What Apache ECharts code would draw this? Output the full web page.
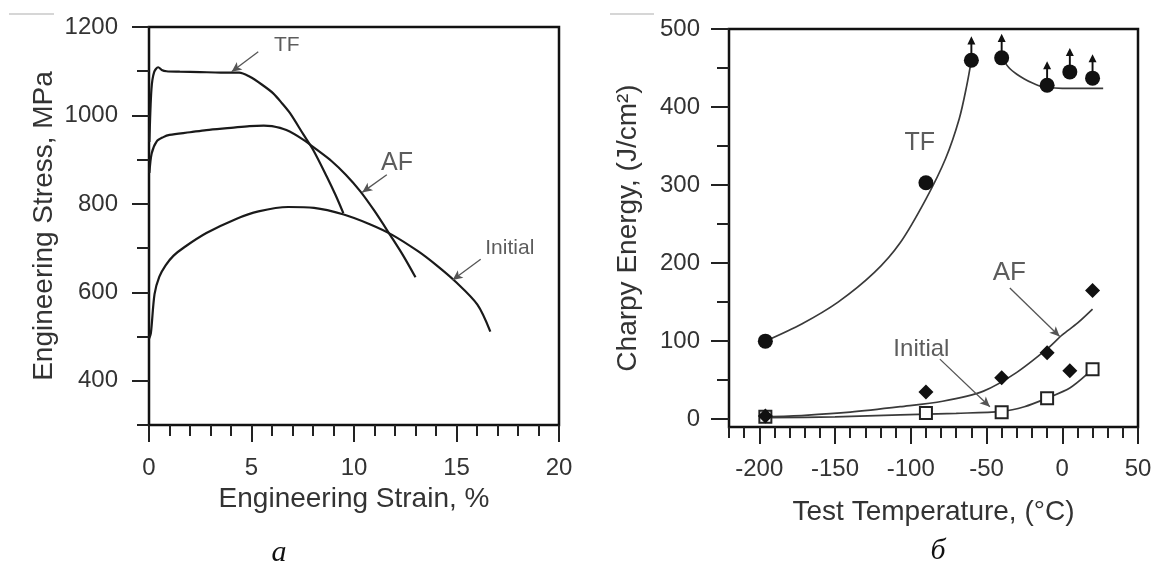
<!DOCTYPE html>
<html><head><meta charset="utf-8">
<script src="https://cdn.jsdelivr.net/npm/echarts@6/dist/echarts.min.js"></script>
<style>html,body{margin:0;padding:0;background:#fff}#c{width:1157px;height:562px}</style>
</head><body><div id="c"></div>
<script>
// ---------- Panel a: engineering stress-strain ----------
const tfStrain = [0.02, 0.12, 0.25, 0.45, 0.62, 0.85, 1.5, 2.5, 3.5, 4.4, 4.9, 5.5, 6.06, 6.5, 6.88, 7.53, 8.01, 8.67, 9.1, 9.48];
const tfStress = [940, 1060, 1098, 1109, 1103, 1100, 1099, 1098, 1097, 1097, 1088, 1070, 1050, 1027, 1005, 957, 922, 862, 820, 779];
const afStrain = [0.02, 0.13, 0.37, 0.7, 1.0, 2.0, 2.8, 4.0, 4.9, 5.6, 6.0, 6.7, 7.5, 8.2, 8.9, 9.6, 10.3, 11.0, 11.8, 12.4, 13.0];
const afStress = [870, 914, 941, 951, 956, 962, 967, 972, 976, 977, 976, 967, 946, 922, 897, 866, 829, 784, 727, 683, 634];
const initStrain = [0.0, 0.09, 0.27, 0.5, 0.81, 1.2, 1.72, 2.8, 4.25, 5.34, 6.79, 8.05, 9.5, 10.77, 11.86, 13.12, 14.0, 14.93, 16.02, 16.65];
const initStress = [495, 507, 596, 635, 661, 683, 702, 734, 766, 783, 793, 791, 776, 754, 730, 693, 662, 625, 572, 511];
const xTicksA = [0, 5, 10, 15, 20];
const yTicksA = [400, 600, 800, 1000, 1200];
// annotation labels (text, x, y, font size) and arrows (tail -> tip)
const labelsA = [['TF', 6.72, 1159, 21], ['AF', 12.1, 893, 25], ['Initial', 17.6, 700, 21]];
const arrowsA = [[5.33, 1144, 4.03, 1099], [11.6, 866, 10.4, 826], [16.18, 675, 14.81, 628]];

// ---------- Panel б: Charpy energy vs temperature ----------
const tempTF = [-196, -90, -60, -40, -10, 5, 20];
const energyTF = [100, 303, 460, 463, 428, 445, 437];
const lowerBoundFrom = -60; // points at or above this temperature are lower bounds (arrows)
const tempAF = [-196, -90, -40, -10, 5, 20];
const energyAF = [4, 35, 53, 85, 62, 165];
const tempInit = [-196, -90, -40, -10, 20];
const energyInit = [3, 8, 9, 27, 64];
const tfFitLowT = [-196, -172, -148, -124, -107, -90, -77, -68, -63, -60];
const tfFitLowE = [100, 122, 150, 188, 226, 282, 334, 385, 428, 460];
const tfFitHighT = [-40, -35, -30, -25, -20, -15, -10, 0, 10, 20, 27];
const tfFitHighE = [463, 450, 442, 436, 431, 427, 425, 424, 424, 424, 424];
const afFitT = [-196, -170, -140, -107, -79, -52, -30, -10, 0, 10, 20];
const afFitE = [3, 5, 9, 16, 23, 36, 60, 90, 108, 123, 141];
const initFitT = [-196, -150, -107, -70, -40, -25, -10, 5, 16];
const initFitE = [2, 3, 5.5, 7.5, 10, 16, 27, 40, 57];
const xTicksB = [-200, -150, -100, -50, 0, 50];
const yTicksB = [0, 100, 200, 300, 400, 500];
const yMinorB = [0, 50, 100, 150, 200, 250, 300, 350, 400, 450, 500];
const labelsB = [['TF', -94, 354, 25], ['AF', -35, 187, 26], ['Initial', -93, 89, 24]];
const arrowsB = [[-34.6, 168, -1.7, 106], [-80.8, 77, -47.8, 16]];

const FONT = '"Liberation Sans", Arial, Helvetica, sans-serif';
const TXT = '#333';
const zip = (a, b) => a.map((v, i) => [v, b[i]]);
const tickStyle = {color: '#222', width: 2};
const lblStyle = {fontSize: 24, color: TXT, fontFamily: FONT, formatter: v => String(v)};
const nameStyle = {fontSize: 28, color: TXT, fontFamily: FONT};

function annot(labels, arrows, xi, yi) {
  return {
    type: 'scatter', xAxisIndex: xi, yAxisIndex: yi, symbolSize: 1, z: 5,
    itemStyle: {color: 'rgba(0,0,0,0)'}, silent: true,
    data: labels.map(l => ({value: [l[1], l[2]], name: l[0],
      label: {show: true, position: 'inside', formatter: '{b}', fontSize: l[3], color: TXT, fontFamily: FONT}})),
    markLine: {silent: true, animation: false, symbol: ['none', 'arrow'], symbolSize: [7, 10],
      label: {show: false}, lineStyle: {color: '#555', width: 1.3, type: 'solid'},
      data: arrows.map(a => [{coord: [a[0], a[1]]}, {coord: [a[2], a[3]]}])}
  };
}

const lineA = (xs, ys) => ({type: 'line', xAxisIndex: 0, yAxisIndex: 0, data: zip(xs, ys), showSymbol: false,
  smooth: 0.3, lineStyle: {color: '#1a1a1a', width: 2.2}, silent: true});
const lineB = (xs, ys) => ({type: 'line', xAxisIndex: 2, yAxisIndex: 2, data: zip(xs, ys), showSymbol: false,
  smooth: 0.3, lineStyle: {color: '#3a3a3a', width: 1.7}, silent: true});

const tfBound = zip(tempTF, energyTF).filter(p => p[0] >= lowerBoundFrom);

const noLine = {show: false, onZero: false};
const option = {
  animation: false,
  backgroundColor: '#fff',
  grid: [
    {left: 149, top: 27, width: 410, height: 398, show: true, borderColor: '#111', borderWidth: 2.5, containLabel: false, outerBoundsMode: 'none'},
    {left: 729, top: 29, width: 409, height: 398, show: true, borderColor: '#111', borderWidth: 2.5, containLabel: false, outerBoundsMode: 'none'}
  ],
  xAxis: [
    {gridIndex: 0, type: 'value', position: 'bottom', min: 0, max: 20, interval: 1, axisLine: noLine,
      axisTick: {length: 11, lineStyle: tickStyle}, axisLabel: {show: false}, splitLine: {show: false}},
    {gridIndex: 0, type: 'value', position: 'bottom', min: 0, max: 20, axisLine: noLine,
      axisTick: {length: 17, lineStyle: tickStyle, customValues: xTicksA},
      axisLabel: Object.assign({margin: 31, customValues: xTicksA}, lblStyle), splitLine: {show: false},
      name: 'Engineering Strain, %', nameLocation: 'middle', nameGap: 59, nameTextStyle: nameStyle},
    {gridIndex: 1, type: 'value', position: 'bottom', min: -220, max: 50, interval: 10, axisLine: noLine,
      axisTick: {length: 11, lineStyle: tickStyle}, axisLabel: {show: false}, splitLine: {show: false}},
    {gridIndex: 1, type: 'value', position: 'bottom', min: -220, max: 50, axisLine: noLine,
      axisTick: {length: 17, lineStyle: tickStyle, customValues: xTicksB},
      axisLabel: Object.assign({margin: 30, customValues: xTicksB}, lblStyle), splitLine: {show: false},
      name: 'Test Temperature, (°C)', nameLocation: 'middle', nameGap: 71, nameTextStyle: nameStyle}
  ],
  yAxis: [
    {gridIndex: 0, type: 'value', position: 'left', min: 300, max: 1200, interval: 100, axisLine: noLine,
      axisTick: {length: 12, lineStyle: tickStyle}, axisLabel: {show: false}, splitLine: {show: false}},
    {gridIndex: 0, type: 'value', position: 'left', min: 300, max: 1200, axisLine: noLine,
      axisTick: {length: 17, lineStyle: tickStyle, customValues: yTicksA},
      axisLabel: Object.assign({margin: 31, customValues: yTicksA}, lblStyle), splitLine: {show: false},
      name: 'Engineering Stress, MPa', nameLocation: 'middle', nameGap: 91, nameTextStyle: nameStyle},
    {gridIndex: 1, type: 'value', position: 'left', min: -10, max: 500, axisLine: noLine,
      axisTick: {length: 12, lineStyle: tickStyle, customValues: yMinorB}, axisLabel: {show: false}, splitLine: {show: false}},
    {gridIndex: 1, type: 'value', position: 'left', min: -10, max: 500, axisLine: noLine,
      axisTick: {length: 18, lineStyle: tickStyle, customValues: yTicksB},
      axisLabel: Object.assign({margin: 29, customValues: yTicksB}, lblStyle), splitLine: {show: false},
      name: 'Charpy Energy, (J/cm²)', nameLocation: 'middle', nameGap: 87, nameTextStyle: nameStyle}
  ],
  series: [
    lineA(tfStrain, tfStress),
    lineA(afStrain, afStress),
    lineA(initStrain, initStress),
    annot(labelsA, arrowsA, 0, 0),
    lineB(tfFitLowT, tfFitLowE),
    lineB(tfFitHighT, tfFitHighE),
    lineB(afFitT, afFitE),
    lineB(initFitT, initFitE),
    {type: 'scatter', xAxisIndex: 2, yAxisIndex: 2, data: tfBound, z: 2, silent: true,
      symbol: 'path://M5,0 L10,9 L6.2,9 L6.2,22 L3.8,22 L3.8,9 L0,9 Z', symbolSize: [8, 20], symbolOffset: [0, -14],
      itemStyle: {color: '#111', opacity: 1}},
    {type: 'scatter', xAxisIndex: 2, yAxisIndex: 2, data: zip(tempTF, energyTF), z: 4, silent: true,
      symbol: 'circle', symbolSize: 15, itemStyle: {color: '#111', opacity: 1}},
    {type: 'scatter', xAxisIndex: 2, yAxisIndex: 2, data: zip(tempAF, energyAF), z: 4, silent: true,
      symbol: 'diamond', symbolSize: [15, 15], itemStyle: {color: '#111', opacity: 1}},
    {type: 'scatter', xAxisIndex: 2, yAxisIndex: 2, data: zip(tempInit, energyInit), z: 3, silent: true,
      symbol: 'rect', symbolSize: 12, itemStyle: {color: '#fff', borderColor: '#222', borderWidth: 2, opacity: 1}},
    annot(labelsB, arrowsB, 2, 2)
  ],
  graphic: [
    {type: 'line', shape: {x1: 9, y1: 14, x2: 54, y2: 14}, style: {stroke: '#c8c8c8', lineWidth: 1.5}},
    {type: 'line', shape: {x1: 610, y1: 14, x2: 654, y2: 14}, style: {stroke: '#c8c8c8', lineWidth: 1.5}},
    {type: 'text', x: 279, y: 553, style: {text: 'a', font: 'italic 30px "Liberation Serif", serif', fill: '#111', align: 'center', verticalAlign: 'middle'}},
    {type: 'text', x: 938, y: 551, style: {text: 'б', font: 'italic 30px "Liberation Serif", serif', fill: '#111', align: 'center', verticalAlign: 'middle'}}
  ]
};
const chart = echarts.init(document.getElementById('c'), null, {renderer: 'canvas'});
chart.setOption(option);
</script></body></html>
